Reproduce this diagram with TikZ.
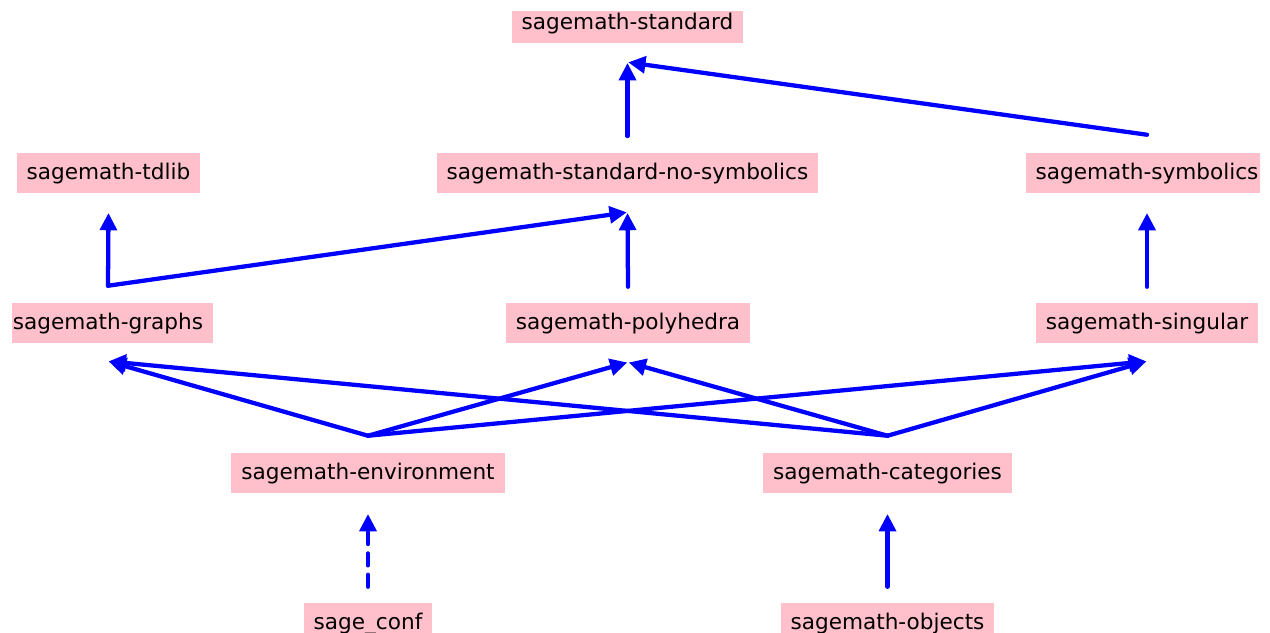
\documentclass[tikz,border=0pt]{standalone}
\usepackage{fontspec}
\setmainfont{DejaVu Sans}
\usepackage{tikz}
\usetikzlibrary{arrows.meta}
\definecolor{boxpink}{RGB}{255,192,203}

\begin{document}
\begin{tikzpicture}[
    x=0.75pt, y=-0.75pt,
    font=\fontsize{16.2}{19}\selectfont,
    pkg/.style={
		rectangle,
		fill=boxpink,
		inner xsep=7.5pt,
		inner ysep=0pt,
		text height=19.5pt,
		text depth=10.5pt
	},
	dep/.style={
		draw=blue,
		line width=3.2pt,
		line cap=round,
		-{Triangle[length=13pt,width=12.5pt]},
		shorten >=0.5pt
	}
  ]
  \useasboundingbox (0,0) rectangle (1270,632);

  % We start by placing the packages (the frame cuts the outer boxes)
  \begin{scope}
  \clip (12,11) rectangle (1260,632);
  \node [pkg] (standard) at (627.5,23) {sagemath-standard};

  \node [pkg] (tdlib) at (108.5,173) {sagemath-tdlib};
  \node [pkg] (nosymb) at (627.5,173) {sagemath-standard-no-symbolics};
  \node [pkg] (symbolics) at (1147,173) {sagemath-symbolics};

  \node [pkg] (graphs) at (108,323) {sagemath-graphs};
  \node [pkg] (polyhedra) at (628,323) {sagemath-polyhedra};
  \node [pkg] (singular) at (1147,323) {sagemath-singular};

  \node [pkg] (environment) at (368,473) {sagemath-environment};
  \node [pkg] (categories) at (887.5,473) {sagemath-categories};

  \node [pkg] (sageconf) at (368,623) {sage\symbol{95}conf};
  \node [pkg] (objects) at (887.5,623) {sagemath-objects};
  \end{scope}

  % Dependencies
  \draw [dep] ([yshift=12.5pt]nosymb.north) -- ([yshift=-14.25pt]standard.south);
  \draw [dep] ([yshift=13.5pt]symbolics.north) -- ([yshift=-14.25pt]standard.south);

  \draw [dep] ([yshift=12.75pt]graphs.north) -- ([yshift=-14.25pt]tdlib.south);
  \draw [dep] ([yshift=12.75pt]graphs.north) -- ([yshift=-14.25pt]nosymb.south);
  \draw [dep] ([yshift=12pt]polyhedra.north) -- ([yshift=-14.25pt]nosymb.south);
  \draw [dep] ([yshift=12pt]singular.north) -- ([yshift=-14.25pt]symbolics.south);

  \draw [dep] ([yshift=12.75pt]environment.north) -- ([yshift=-13.5pt]graphs.south);
  \draw [dep] ([yshift=12.75pt]environment.north) -- ([yshift=-14.25pt]polyhedra.south);
  \draw [dep] ([yshift=12.75pt]environment.north) -- ([yshift=-13.5pt]singular.south);
  \draw [dep] ([yshift=12.75pt]categories.north) -- ([yshift=-13.5pt]graphs.south);
  \draw [dep] ([yshift=12.75pt]categories.north) -- ([yshift=-14.25pt]polyhedra.south);
  \draw [dep] ([yshift=12.75pt]categories.north) -- ([yshift=-13.5pt]singular.south);

  \draw [dep, dash pattern=on 9pt off 7pt] ([yshift=12pt]sageconf.north) -- ([yshift=-15pt]environment.south);
  \draw [dep] ([yshift=12pt]objects.north) -- ([yshift=-15pt]categories.south);

\end{tikzpicture}
\end{document}
